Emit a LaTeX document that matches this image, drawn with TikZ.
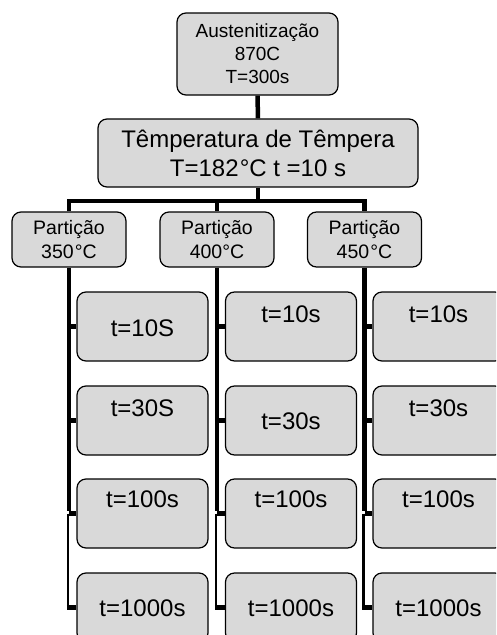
\documentclass[tikz,border=0pt]{standalone}
\usepackage{fontspec}
\setmainfont{Liberation Sans}
\definecolor{boxgray}{HTML}{D9D9D9}
\begin{document}
\begin{tikzpicture}[x=1pt,y=-1pt,
  box/.style={draw=black, line width=1.2pt, fill=boxgray, rounded corners=9pt, inner sep=0pt, align=center},
  topbox/.style={box, minimum width=161pt, minimum height=82pt, font=\fontsize{19}{23}\selectfont},
  midbox/.style={box, minimum width=320pt, minimum height=68pt, font=\fontsize{24}{29}\selectfont},
  partbox/.style={box, minimum width=114pt, minimum height=55pt, font=\fontsize{19.5}{24}\selectfont},
  timebox/.style={box, minimum width=131pt, minimum height=69pt},
  conn/.style={line width=4.5pt, black},
  thinconn/.style={line width=2.5pt, black},
  lbl/.style={inner sep=0pt, anchor=base, font=\fontsize{24}{29}\selectfont},
]
\path[use as bounding box, clip] (0,0) rectangle (496,635);

\coordinate (bus) at (258,201);

\node[topbox] (aus) at (257.5,54) {Austenitização\\870C\\T=300s};
\node[midbox] (temp) at (258,153) {Têmperatura de Têmpera\\T=182\kern1.2pt°C t =10 s};
\node[partbox] (p1) at (69,239.5) {Partição\\350\kern1.2pt°C};
\node[partbox] (p2) at (217,239.5) {Partição\\400°C};
\node[partbox] (p3) at (364.5,239.5) {Partição\\450\kern1.2pt°C};

% time boxes
\node[timebox] (c11) at (142.5,326.5) {};
\node[timebox] (c12) at (142.5,420.5) {};
\node[timebox] (c13) at (142.5,513.5) {};
\node[timebox] (c14) at (142.5,607.5) {};
\node[timebox] (c21) at (291,326.5) {};
\node[timebox] (c22) at (291,420.5) {};
\node[timebox] (c23) at (291,513.5) {};
\node[timebox] (c24) at (291,607.5) {};
\node[timebox] (c31) at (438.5,326.5) {};
\node[timebox] (c32) at (438.5,420.5) {};
\node[timebox] (c33) at (438.5,513.5) {};
\node[timebox] (c34) at (438.5,607.5) {};

% labels
\node[lbl] (l11) at ([yshift=-9.5pt]c11.center) {t=10S};
\node[lbl] (l12) at ([yshift=4.5pt]c12.center) {t=30S};
\node[lbl] (l13) at ([yshift=6.5pt]c13.center) {t=100s};
\node[lbl] (l14) at ([yshift=-8.5pt]c14.center) {t=1000s};
\node[lbl] (l21) at ([yshift=4.5pt]c21.center) {t=10s};
\node[lbl] (l22) at ([yshift=-8.5pt]c22.center) {t=30s};
\node[lbl] (l23) at ([yshift=6.5pt]c23.center) {t=100s};
\node[lbl] (l24) at ([yshift=-8.5pt]c24.center) {t=1000s};
\node[lbl] (l31) at ([yshift=4.5pt]c31.center) {t=10s};
\node[lbl] (l32) at ([yshift=4.5pt]c32.center) {t=30s};
\node[lbl] (l33) at ([yshift=6.5pt]c33.center) {t=100s};
\node[lbl] (l34) at ([yshift=-8.5pt]c34.center) {t=1000s};

% tree connectors
\draw[conn] (aus.south) -- (temp.north);
\draw[conn] (temp.south) -- (temp.south |- bus);
\draw[conn] (p1.north) -- (p1.north |- bus) -- (p3.north |- bus) -- (p3.north);
\draw[conn] (p2.north) -- (p2.north |- bus);

% column spines
\foreach \c/\p in {1/p1,2/p2,3/p3}{
  \draw[conn] (\p.south) -- ([yshift=2.25pt]\p.south |- c\c3.west);
  \draw[thinconn] ([xshift=-1pt]\p.south |- c\c3.west) -- ([xshift=-1pt,yshift=-2.25pt]\p.south |- c\c4.west);
  \draw[conn] (\p.south |- c\c1.west) -- (c\c1.west);
  \draw[conn] (\p.south |- c\c2.west) -- (c\c2.west);
  \draw[conn] (\p.south |- c\c3.west) -- (c\c3.west);
  \draw[conn] ([xshift=-2.25pt]\p.south |- c\c4.west) -- (c\c4.west);
}
\end{tikzpicture}
\end{document}
